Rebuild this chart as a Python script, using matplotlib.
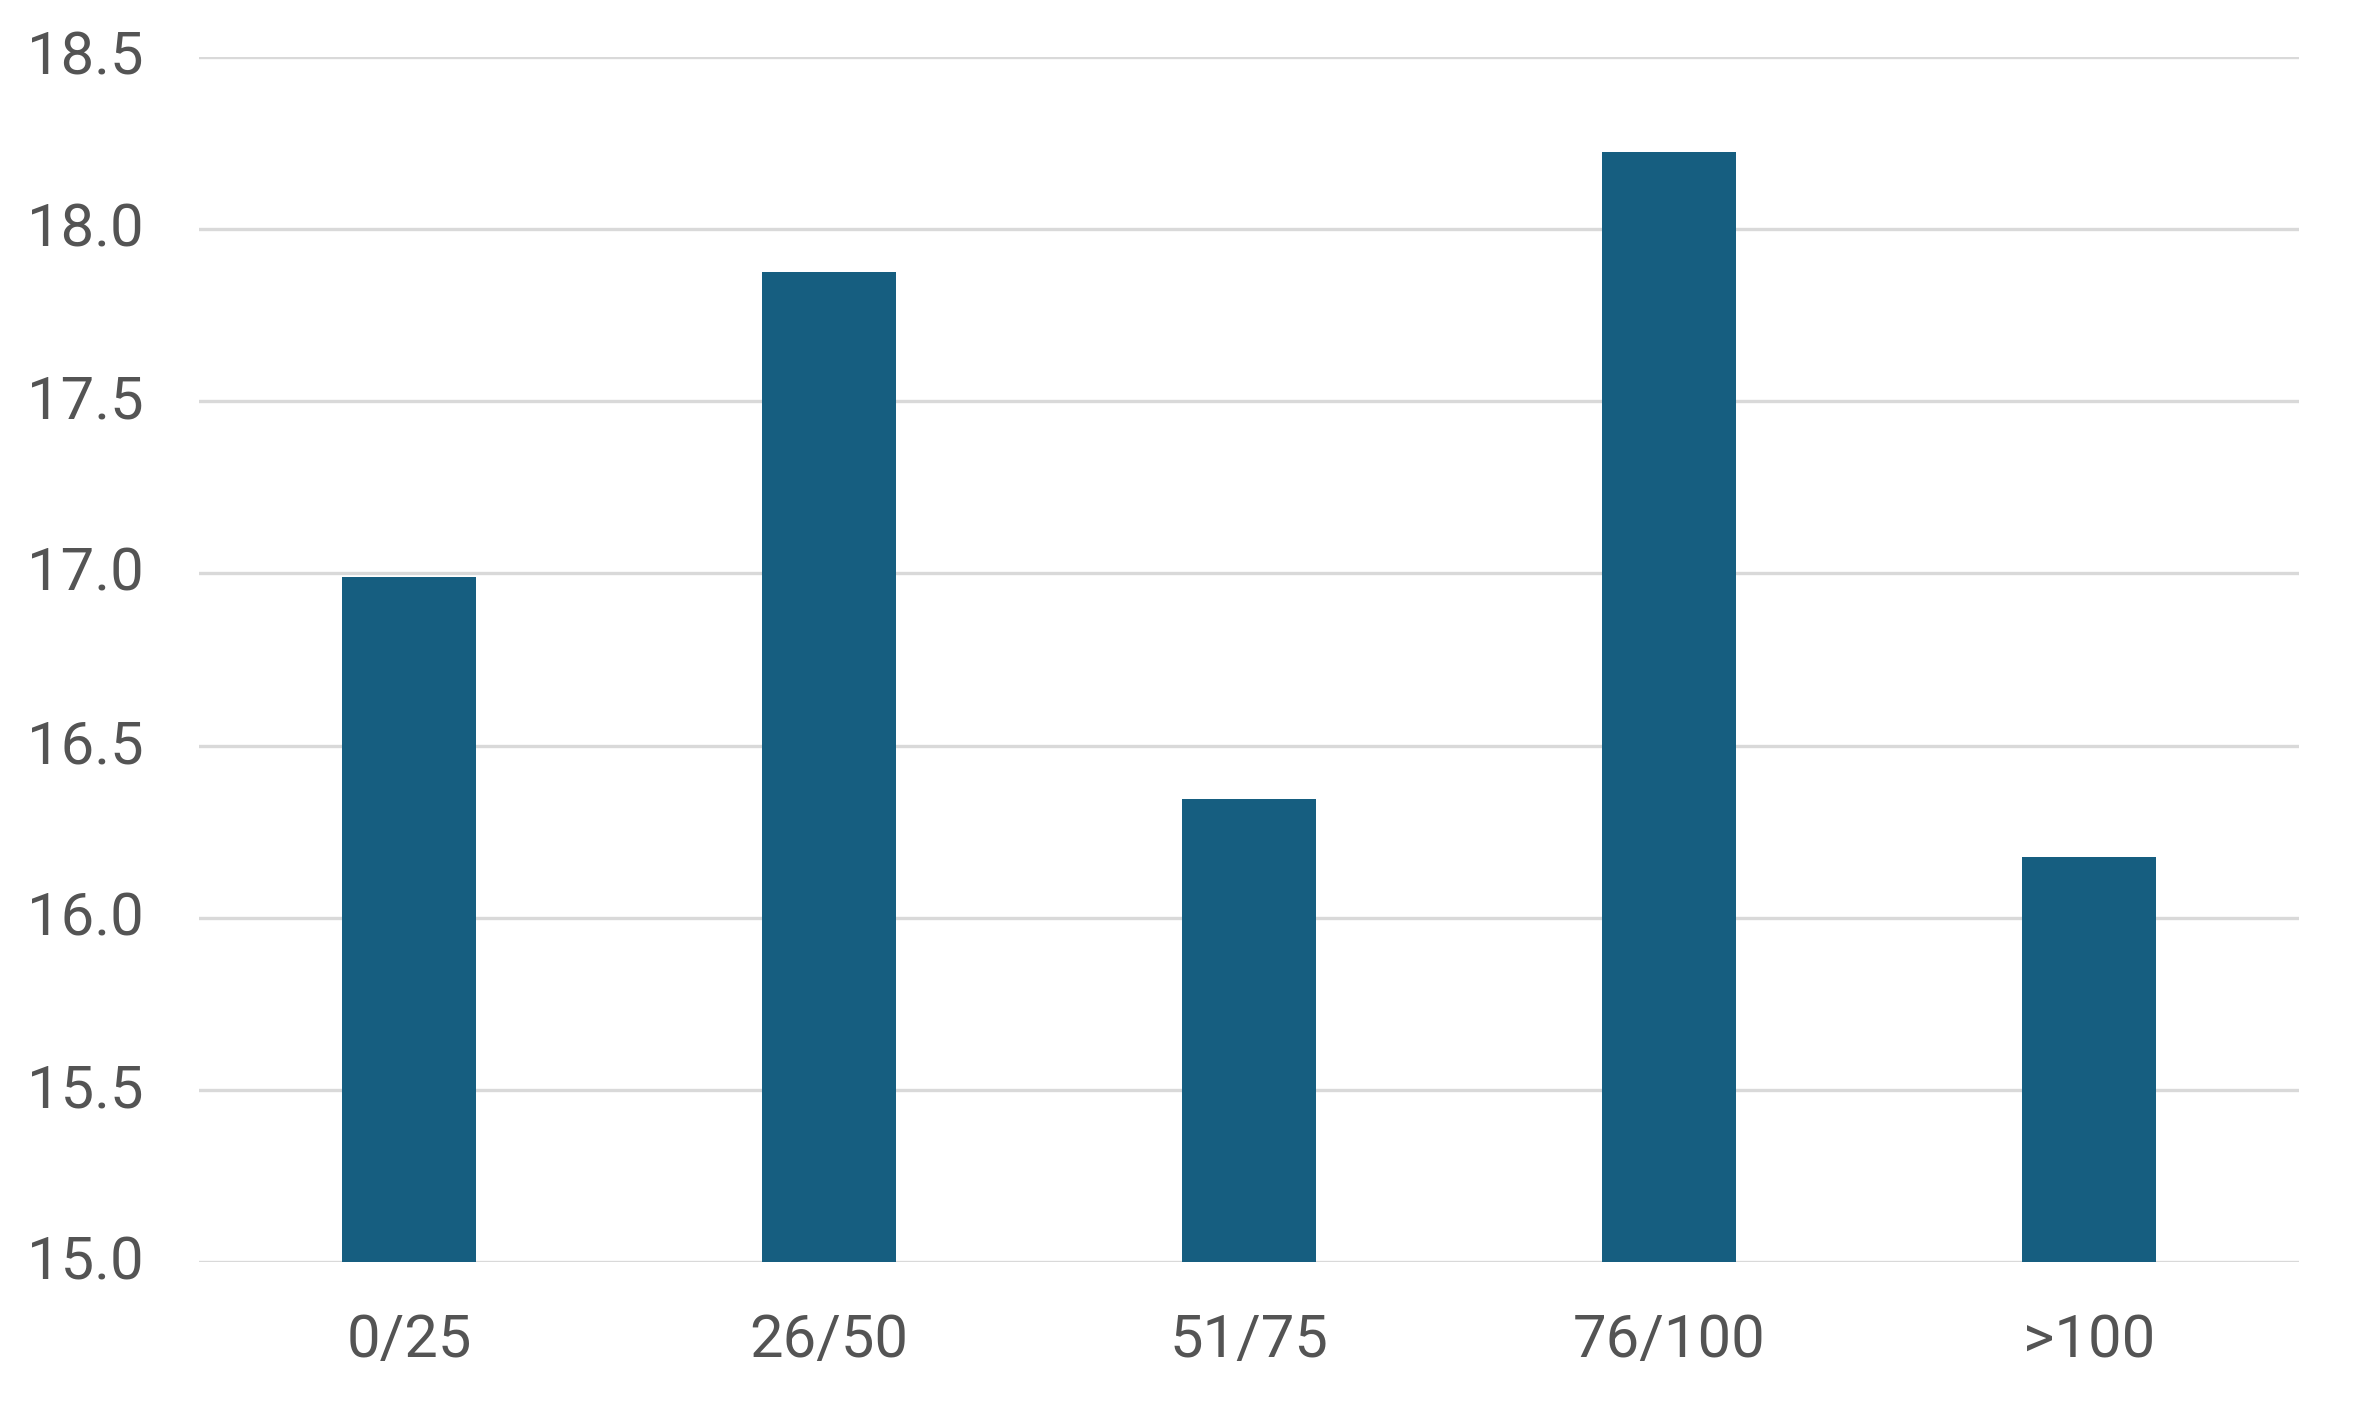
import matplotlib
matplotlib.use("Agg")
from matplotlib import pyplot as plt
from matplotlib.transforms import ScaledTranslation

categories = ["0/25", "26/50", "51/75", "76/100", ">100"]
values = [16.99, 17.875, 16.345, 18.225, 16.175]
y_ticks = [15.0, 15.5, 16.0, 16.5, 17.0, 17.5, 18.0, 18.5]

bar_color = "#165e80"
text_color = "#545454"
grid_color = "#d9d9d9"

plt.rcParams["font.family"] = ["Roboto", "DejaVu Sans"]

fig = plt.figure(figsize=(23.58, 14.02), dpi=100)
ax = fig.add_axes([199 / 2358, 1 - 1262 / 1402, 2100 / 2358, (1262 - 57) / 1402])

x = range(len(categories))
ax.bar(x, [v - 15.0 for v in values], bottom=15.0, width=0.317, color=bar_color, zorder=3)

ax.set_xlim(-0.5, len(categories) - 0.5)
ax.set_ylim(15.0, 18.5)
ax.set_yticks(y_ticks)
ax.set_yticklabels([f"{t:.1f}" for t in y_ticks])
ax.set_xticks(list(x))
ax.set_xticklabels(categories)

ax.grid(axis="y", color=grid_color, linewidth=2.4, zorder=0)
for s in ax.spines.values():
    s.set_visible(False)
ax.tick_params(axis="both", length=0, labelsize=43, colors=text_color)
ax.tick_params(axis="y", pad=40)
ax.tick_params(axis="x", pad=36)

# nudge y labels up a little, like the original
shift = ScaledTranslation(0, 5 / 100, fig.dpi_scale_trans)
for lbl in ax.get_yticklabels():
    lbl.set_transform(lbl.get_transform() + shift)

fig.savefig("out.png", dpi=100, facecolor="white")
